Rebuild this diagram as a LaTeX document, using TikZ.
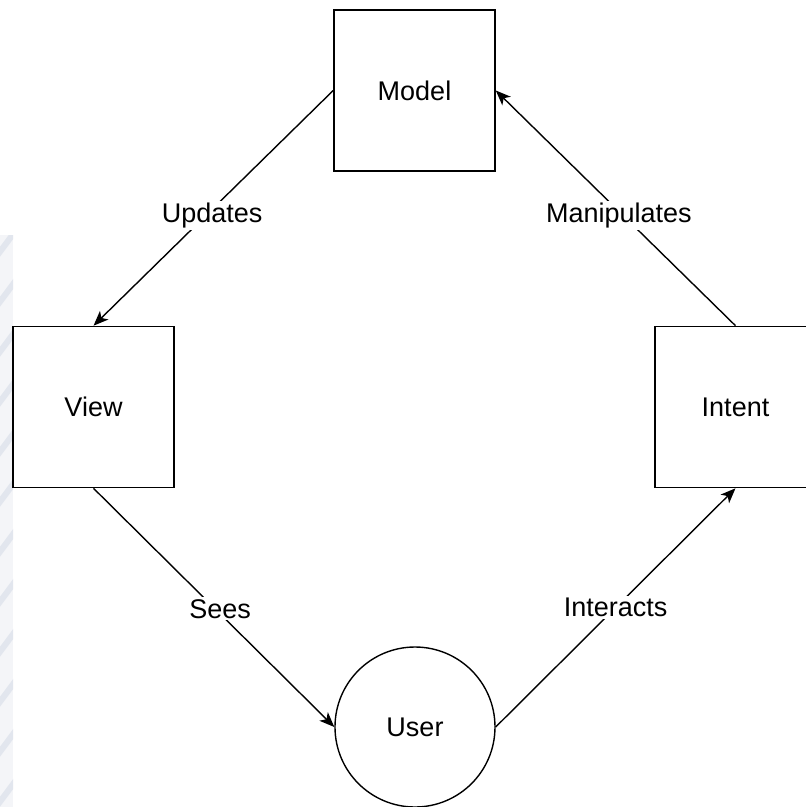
\documentclass[tikz,border=0pt]{standalone}
\usepackage{fontspec}
\setmainfont{Liberation Sans}
\usetikzlibrary{arrows.meta}
\definecolor{faint}{RGB}{226,230,238}
\tikzset{
  box/.style={draw, line width=1.6pt, minimum width=161pt, minimum height=161pt, inner sep=0pt, font=\fontsize{27}{30}\selectfont},
  usr/.style={draw, circle, line width=1.4pt, minimum size=160pt, inner sep=0pt, font=\fontsize{27}{30}\selectfont},
  link/.style={line width=1.4pt, -{Stealth[length=15pt, width=12pt, inset=4pt]}},
  tag/.style={fill=white, inner sep=2pt, font=\fontsize{27}{30}\selectfont}
}
\begin{document}
\begin{tikzpicture}[x=1pt, y=-1pt]
  \useasboundingbox (0,0) rectangle (806,807);
  \fill[white] (0,0) rectangle (806,807);
  % faint decorative strip along the left edge
  \begin{scope}
    \clip (0,235) rectangle (13,807);
    \fill[faint!40] (0,235) rectangle (13,807);
    \foreach \y in {250,300,350,400,450,500,550,600,650,700,750,800}
      \draw[faint, line width=6pt] (-20,\y+30) .. controls (0,\y) and (10,\y-10) .. (30,\y-40);
  \end{scope}

  \node[box] (model) at (414.5,90.5) {Model};
  \node[box] (view) at (93.5,407) {View};
  \node[box] (intent) at (735.5,407) {Intent};
  \node[usr] (user) at (415,727) {User};

  \draw[link] (model.west) -- node[tag, pos=0.53, xshift=6pt] {Updates} (view.north);
  \draw[link] (view.south) -- node[tag, pos=0.505, xshift=5pt] {Sees} (user.west);
  \draw[link] (user.east) -- node[tag, pos=0.5] {Interacts} (intent.south);
  \draw[link] (intent.north) -- node[tag, pos=0.47, xshift=-4pt] {Manipulates} (model.east);
\end{tikzpicture}
\end{document}
